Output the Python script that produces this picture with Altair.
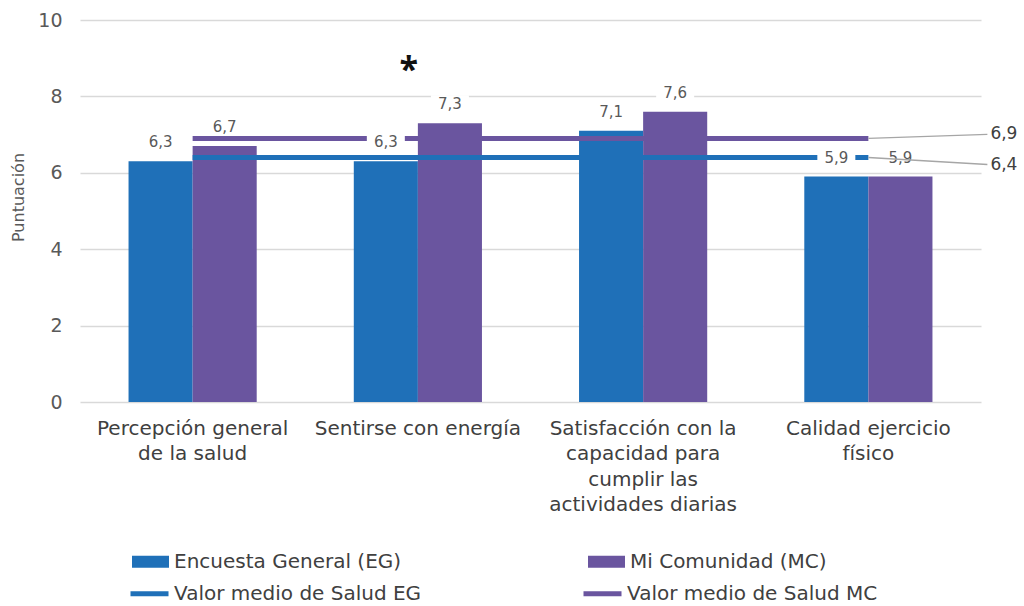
import altair as alt
import pandas as pd

# Categories (line breaks mark where the axis label wraps)
CATEGORIES = [
    "Percepción general\nde la salud",
    "Sentirse con energía",
    "Satisfacción con la\ncapacidad para\ncumplir las\nactividades diarias",
    "Calidad ejercicio\nfísico",
]
SERIES = ["Encuesta General (EG)", "Mi Comunidad (MC)"]
EG_VALUES = [6.3, 6.3, 7.1, 5.9]
MC_VALUES = [6.7, 7.3, 7.6, 5.9]

MEAN_SERIES = ["Valor medio de Salud EG", "Valor medio de Salud MC"]
MEAN_VALUES = [6.4, 6.9]

Y_TICKS = [0, 2, 4, 6, 8, 10]
SIGNIFICANT = ["Sentirse con energía"]

BLUE = "#1f70b8"
PURPLE = "#6a559f"
TEXT_DARK = "#404040"
TEXT_GREY = "#595959"
FONT = "DejaVu Sans"

bars_df = pd.DataFrame(
    [{"category": c, "series": SERIES[0], "value": v} for c, v in zip(CATEGORIES, EG_VALUES)]
    + [{"category": c, "series": SERIES[1], "value": v} for c, v in zip(CATEGORIES, MC_VALUES)]
)
means_df = pd.DataFrame(
    [{"category": c, "series": s, "value": m}
     for s, m in zip(MEAN_SERIES, MEAN_VALUES) for c in CATEGORIES]
)
star_df = pd.DataFrame(
    [{"category": c, "series": SERIES[1], "value": MC_VALUES[CATEGORIES.index(c)]}
     for c in SIGNIFICANT]
)

label_expr = "replace(format(datum.value, '.1f'), '.', ',')"

x_enc = alt.X(
    "category:N",
    sort=CATEGORIES,
    scale=alt.Scale(domain=CATEGORIES, paddingInner=0.431, paddingOuter=0.2155),
    axis=alt.Axis(
        title=None,
        labelExpr="split(datum.value, '\\n')",
        labelAngle=0,
        labelFont=FONT,
        labelFontSize=20,
        labelColor=TEXT_DARK,
        labelPadding=16,
        labelBaseline="top",
        labelLineHeight=25.5,
        labelLimit=400,
        domain=False,
        ticks=False,
        grid=False,
    ),
)
x_off = alt.XOffset(
    "series:N",
    sort=SERIES,
    scale=alt.Scale(domain=SERIES, paddingInner=0, paddingOuter=0),
)
y_enc = alt.Y(
    "value:Q",
    scale=alt.Scale(domain=[0, 10]),
    axis=alt.Axis(
        values=Y_TICKS,
        title="Puntuación",
        titleFont=FONT,
        titleFontSize=16,
        titleFontWeight="normal",
        titleColor=TEXT_GREY,
        titleX=-62,
        titleY=177,
        titleAngle=-90,
        titleAlign="center",
        titleBaseline="middle",
        labelFont=FONT,
        labelFontSize=19,
        labelColor=TEXT_GREY,
        labelPadding=18,
        domain=False,
        ticks=False,
        grid=True,
        gridColor="#d9d9d9",
        gridWidth=1.5,
    ),
)

bars = alt.Chart(bars_df).mark_bar().encode(
    x=x_enc,
    xOffset=x_off,
    y=y_enc,
    fill=alt.Fill(
        "series:N",
        sort=SERIES,
        scale=alt.Scale(domain=SERIES, range=[BLUE, PURPLE]),
        legend=alt.Legend(
            title=None,
            orient="none",
            legendX=52,
            legendY=523,
            direction="horizontal",
            columns=2,
            columnPadding=186,
            symbolType="M-1,-0.33H1V0.33H-1Z",
            symbolSize=1369,
            symbolStrokeWidth=0,
            labelFont=FONT,
            labelFontSize=20,
            labelColor=TEXT_DARK,
            labelOffset=5,
            labelLimit=400,
            padding=0,
        ),
    ),
)

mean_lines = alt.Chart(means_df).mark_line(strokeWidth=5).encode(
    x=alt.X("category:N", sort=CATEGORIES),
    y="value:Q",
    stroke=alt.Stroke(
        "series:N",
        sort=MEAN_SERIES,
        scale=alt.Scale(domain=MEAN_SERIES, range=[BLUE, PURPLE]),
        legend=alt.Legend(
            title=None,
            orient="none",
            legendX=48,
            legendY=552,
            direction="horizontal",
            columns=2,
            columnPadding=151,
            symbolType="stroke",
            symbolSize=1444,
            symbolStrokeWidth=5,
            labelFont=FONT,
            labelFontSize=20,
            labelColor=TEXT_DARK,
            labelOffset=3,
            labelLimit=400,
            padding=0,
        ),
    ),
)

# white boxes behind the bar value labels, so the mean lines break around them
label_boxes = alt.Chart(bars_df).mark_rect(
    color="white", width=38, height=18, yOffset=-19
).encode(x=alt.X("category:N", sort=CATEGORIES), xOffset=x_off, y="value:Q")

bar_labels = alt.Chart(bars_df).transform_calculate(
    label=label_expr
).mark_text(
    font=FONT, fontSize=15, color=TEXT_GREY, baseline="middle", yOffset=-19
).encode(
    x=alt.X("category:N", sort=CATEGORIES), xOffset=x_off, y="value:Q", text="label:N"
)

# leader lines and end labels for the two mean values
last_cat = CATEGORIES[-1]
end_offsets = {MEAN_SERIES[0]: 7, MEAN_SERIES[1]: -4}
end_layers = []
for s in MEAN_SERIES:
    dy = end_offsets[s]
    sub = means_df[(means_df["series"] == s) & (means_df["category"] == last_cat)]
    end_layers.append(
        alt.Chart(sub).mark_rule(
            color="#a6a6a6", strokeWidth=1.3, x2Offset=119, y2Offset=dy
        ).encode(
            x=alt.X("category:N", sort=CATEGORIES),
            x2="category:N",
            y="value:Q",
            y2="value:Q",
        )
    )
    end_layers.append(
        alt.Chart(sub).transform_calculate(label=label_expr).mark_text(
            font=FONT, fontSize=17, color=TEXT_DARK, align="left",
            baseline="middle", xOffset=122, yOffset=dy
        ).encode(
            x=alt.X("category:N", sort=CATEGORIES), y="value:Q", text="label:N"
        )
    )

star = alt.Chart(star_df).mark_text(
    text="*", font="Open Sans", fontSize=34, fontWeight="bold", color="#111111",
    baseline="middle", xOffset=-9, yOffset=-52
).encode(x=alt.X("category:N", sort=CATEGORIES), y="value:Q")

chart = alt.layer(
    bars, mean_lines, label_boxes, bar_labels, *end_layers, star
).properties(
    width=901,
    height=382,
    background="white",
    autosize=alt.AutoSizeParams(type="none"),
    padding={"left": 80, "top": 20, "right": 43, "bottom": 204},
).configure_view(stroke=None)

chart.save("out.html", embed_options={"renderer": "svg", "actions": False})
